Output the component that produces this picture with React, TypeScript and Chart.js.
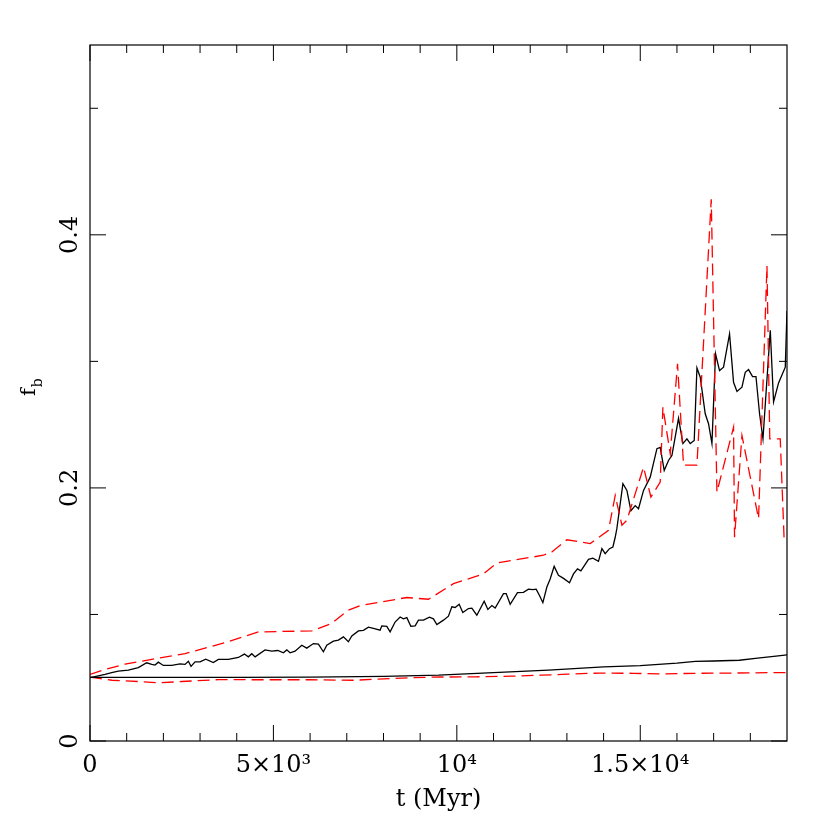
import { useEffect, useRef } from "react";
import { Chart, registerables } from "chart.js";

Chart.register(...registerables);

// ---- axis ranges & ticks ----
const T_MIN = 0;
const T_MAX = 19000;
const F_MIN = 0;
const F_MAX = 0.55;
const xMajorTicks = [0, 5000, 10000, 15000];
const xTickLabels = ["0", "5×10³", "10⁴", "1.5×10⁴"];
const xMinorTicks = [1000, 2000, 3000, 4000, 6000, 7000, 8000, 9000, 11000, 12000, 13000, 14000, 16000, 17000, 18000];
const yMajorTicks = [0, 0.2, 0.4];
const yTickLabels = ["0", "0.2", "0.4"];
const yMinorTicks = [0.1, 0.3, 0.5];
const xTitle = "t (Myr)";
const yTitleMain = "f";
const yTitleSub = "b";

// ---- series: upper solid black ----
const blackUpperT = [
  0, 226, 409, 592, 772, 1044, 1317, 1546, 1683, 1773, 1863, 1999, 2228, 2454, 2591, 2681, 2754, 2863, 3000,
  3155, 3362, 3499, 3771, 4044, 4208, 4317, 4410, 4500, 4772, 4955, 5119, 5271, 5364, 5454, 5590, 5773, 5910,
  6090, 6226, 6362, 6455, 6635, 6771, 6908, 7044, 7137, 7317, 7453, 7590, 7726, 7908, 7954, 8091, 8181, 8317,
  8454, 8544, 8637, 8746, 8863, 8953, 9089, 9253, 9362, 9455, 9635, 9771, 9864, 9954, 10063, 10163, 10316,
  10409, 10545, 10745, 10846, 10955, 11045, 11271, 11345, 11454, 11653, 11816, 11953, 12072, 12162, 12253,
  12345, 12454, 12544, 12653, 12770, 12908, 13071, 13180, 13289, 13381, 13589, 13709, 13861, 13954, 14044,
  14161, 14254, 14317, 14363, 14527, 14636, 14745, 14862, 14952, 15089, 15271, 15454, 15544, 15653, 15770,
  15863, 16043, 16163, 16272, 16362, 16471, 16545, 16635, 16771, 16861, 16954, 17052, 17161, 17270, 17434,
  17543, 17636, 17772, 17862, 17952, 18061, 18154, 18252, 18345, 18544, 18634, 18770, 18953, 19000,
];
const blackUpperF = [
  0.050, 0.0515, 0.0526, 0.054, 0.0552, 0.056, 0.058, 0.0618, 0.0605, 0.060, 0.0623, 0.0597, 0.0597, 0.061,
  0.0605, 0.063, 0.059, 0.0626, 0.0625, 0.0647, 0.062, 0.0645, 0.0645, 0.066, 0.0687, 0.0665, 0.069, 0.0665,
  0.072, 0.071, 0.0715, 0.0697, 0.072, 0.0697, 0.071, 0.0757, 0.0734, 0.077, 0.0765, 0.0705, 0.0757, 0.0789,
  0.0797, 0.0823, 0.0784, 0.083, 0.087, 0.0875, 0.090, 0.089, 0.0876, 0.091, 0.0905, 0.0862, 0.094, 0.098,
  0.0965, 0.0975, 0.0907, 0.091, 0.0955, 0.0955, 0.0978, 0.0965, 0.092, 0.0955, 0.0986, 0.106, 0.1055, 0.108,
  0.1015, 0.1047, 0.105, 0.0994, 0.1105, 0.104, 0.107, 0.105, 0.1165, 0.1165, 0.108, 0.1173, 0.1175, 0.120,
  0.1197, 0.120, 0.115, 0.1093, 0.1217, 0.128, 0.138, 0.131, 0.1285, 0.125, 0.132, 0.136, 0.1345, 0.1436,
  0.1445, 0.142, 0.152, 0.148, 0.152, 0.1533, 0.161, 0.168, 0.2033, 0.198, 0.182, 0.186, 0.1835, 0.198, 0.2085,
  0.231, 0.232, 0.2138, 0.2217, 0.2257, 0.255, 0.235, 0.2388, 0.235, 0.2375, 0.2948, 0.2875, 0.2586, 0.2507,
  0.235, 0.306, 0.2927, 0.2954, 0.3217, 0.2835, 0.2762, 0.2796, 0.2914, 0.2935, 0.288, 0.288, 0.2586, 0.2388,
  0.3246, 0.268, 0.283, 0.2954, 0.34,
];

// ---- series: upper dashed red ----
const redUpperT = [
  0, 409, 954, 1683, 2591, 3681, 4590, 6046, 6591, 7044, 7363, 8637, 9226, 9908, 10726, 11091, 12362, 12590,
  13000, 13635, 14135, 14317, 14500, 14636, 15089, 15290, 15544, 15617, 15817, 16016, 16180, 16545, 16935,
  17090, 17543, 17570, 17772, 18225, 18454, 18530, 18816, 18925,
];
const redUpperF = [
  0.0526, 0.0565, 0.0607, 0.0645, 0.069, 0.0778, 0.0862, 0.087, 0.093, 0.1034, 0.107, 0.1134, 0.112, 0.1243,
  0.132, 0.1407, 0.1468, 0.1494, 0.159, 0.156, 0.1665, 0.194, 0.1705, 0.1744, 0.2164, 0.1928, 0.2046, 0.2638,
  0.227, 0.298, 0.218, 0.218, 0.428, 0.1967, 0.248, 0.161, 0.2414, 0.1757, 0.3756, 0.2388, 0.2388, 0.157,
];

// ---- series: lower solid black ----
const blackLowerT = [0, 2000, 4000, 6000, 8000, 9500, 11000, 12500, 14000, 15000, 16000, 16500, 17000, 17700, 18200, 18700, 19000];
const blackLowerF = [0.0503, 0.0503, 0.0503, 0.0505, 0.051, 0.052, 0.054, 0.056, 0.0585, 0.0595, 0.0615, 0.063, 0.0632, 0.0638, 0.0655, 0.067, 0.068];

// ---- series: lower dashed red ----
const redLowerT = [0, 600, 1300, 1900, 2500, 3500, 4500, 6000, 7200, 8300, 9300, 10500, 11500, 12300, 13000, 13900, 14800, 15500, 16500, 17500, 18500, 19000];
const redLowerF = [0.0505, 0.048, 0.047, 0.046, 0.047, 0.0485, 0.0484, 0.0484, 0.048, 0.0495, 0.0505, 0.0507, 0.0512, 0.052, 0.0528, 0.0537, 0.0535, 0.053, 0.0535, 0.0537, 0.054, 0.054];

const zip = (t: number[], f: number[]) => t.map((x, i) => ({ x, y: f[i] }));

const FONT = '"DejaVu Serif", "Liberation Serif", serif';

const framePlugin = {
  id: "pgFrame",
  afterDatasetsDraw(chart: any) {
    const { ctx, chartArea: a, scales } = chart;
    const xs = scales.x;
    const ys = scales.y;
    ctx.save();
    ctx.strokeStyle = "#000";
    ctx.lineWidth = 1.2;
    ctx.strokeRect(a.left, a.top, a.right - a.left, a.bottom - a.top);
    const seg = (x1: number, y1: number, x2: number, y2: number) => {
      ctx.beginPath();
      ctx.moveTo(x1, y1);
      ctx.lineTo(x2, y2);
      ctx.stroke();
    };
    ctx.lineWidth = 1;
    const xt = (v: number, len: number) => {
      const p = xs.getPixelForValue(v);
      seg(p, a.bottom, p, a.bottom - len);
      seg(p, a.top, p, a.top + len);
    };
    const yt = (v: number, len: number) => {
      const p = ys.getPixelForValue(v);
      seg(a.left, p, a.left + len, p);
      seg(a.right, p, a.right - len, p);
    };
    xMajorTicks.forEach((v) => xt(v, 16));
    xMinorTicks.forEach((v) => xt(v, 8));
    yMajorTicks.forEach((v) => yt(v, 16));
    yMinorTicks.forEach((v) => yt(v, 8));

    ctx.fillStyle = "#000";
    ctx.font = `24px ${FONT}`;
    ctx.textAlign = "center";
    ctx.textBaseline = "alphabetic";
    xMajorTicks.forEach((v, i) => {
      ctx.fillText(xTickLabels[i], xs.getPixelForValue(v), a.bottom + 31);
    });
    yMajorTicks.forEach((v, i) => {
      ctx.save();
      ctx.translate(a.left - 13, ys.getPixelForValue(v));
      ctx.rotate(-Math.PI / 2);
      ctx.fillText(yTickLabels[i], 0, 0);
      ctx.restore();
    });
    // axis titles
    ctx.fillText(xTitle, (a.left + a.right) / 2, a.bottom + 65);
    ctx.save();
    ctx.translate(35, (a.top + a.bottom) / 2 + 3);
    ctx.rotate(-Math.PI / 2);
    ctx.textAlign = "left";
    ctx.font = `21px ${FONT}`;
    ctx.fillText(yTitleMain, 0, 0);
    const w = ctx.measureText(yTitleMain).width;
    ctx.font = `14px ${FONT}`;
    ctx.fillText(yTitleSub, w + 1, 7);
    ctx.restore();
    ctx.restore();
  },
};

export default function App() {
  const ref = useRef<HTMLCanvasElement | null>(null);
  useEffect(() => {
    if (!ref.current) return;
    const line = (data: any, color: string, dashed: boolean) => ({
      data,
      borderColor: color,
      backgroundColor: color,
      borderWidth: 1.3,
      borderDash: dashed ? [12, 6] : [],
      pointRadius: 0,
      tension: 0,
      fill: false,
    });
    const chart = new Chart(ref.current, {
      type: "line",
      data: {
        datasets: [
          line(zip(blackLowerT, blackLowerF), "#000000", false),
          line(zip(redLowerT, redLowerF), "#ff0000", true),
          line(zip(redUpperT, redUpperF), "#ff0000", true),
          line(zip(blackUpperT, blackUpperF), "#000000", false),
        ],
      },
      options: {
        animation: false,
        responsive: false,
        maintainAspectRatio: false,
        layout: { padding: { left: 90, right: 43, top: 45, bottom: 89 } },
        plugins: { legend: { display: false }, tooltip: { enabled: false } },
        scales: {
          x: { type: "linear", min: T_MIN, max: T_MAX, display: false },
          y: { type: "linear", min: F_MIN, max: F_MAX, display: false },
        },
      },
      plugins: [framePlugin],
    });
    return () => chart.destroy();
  }, []);
  return (
    <div style={{ position: "absolute", left: 0, top: 0, width: 830, height: 830, background: "#fff" }}>
      <canvas ref={ref} width={830} height={830} style={{ display: "block" }} />
    </div>
  );
}
